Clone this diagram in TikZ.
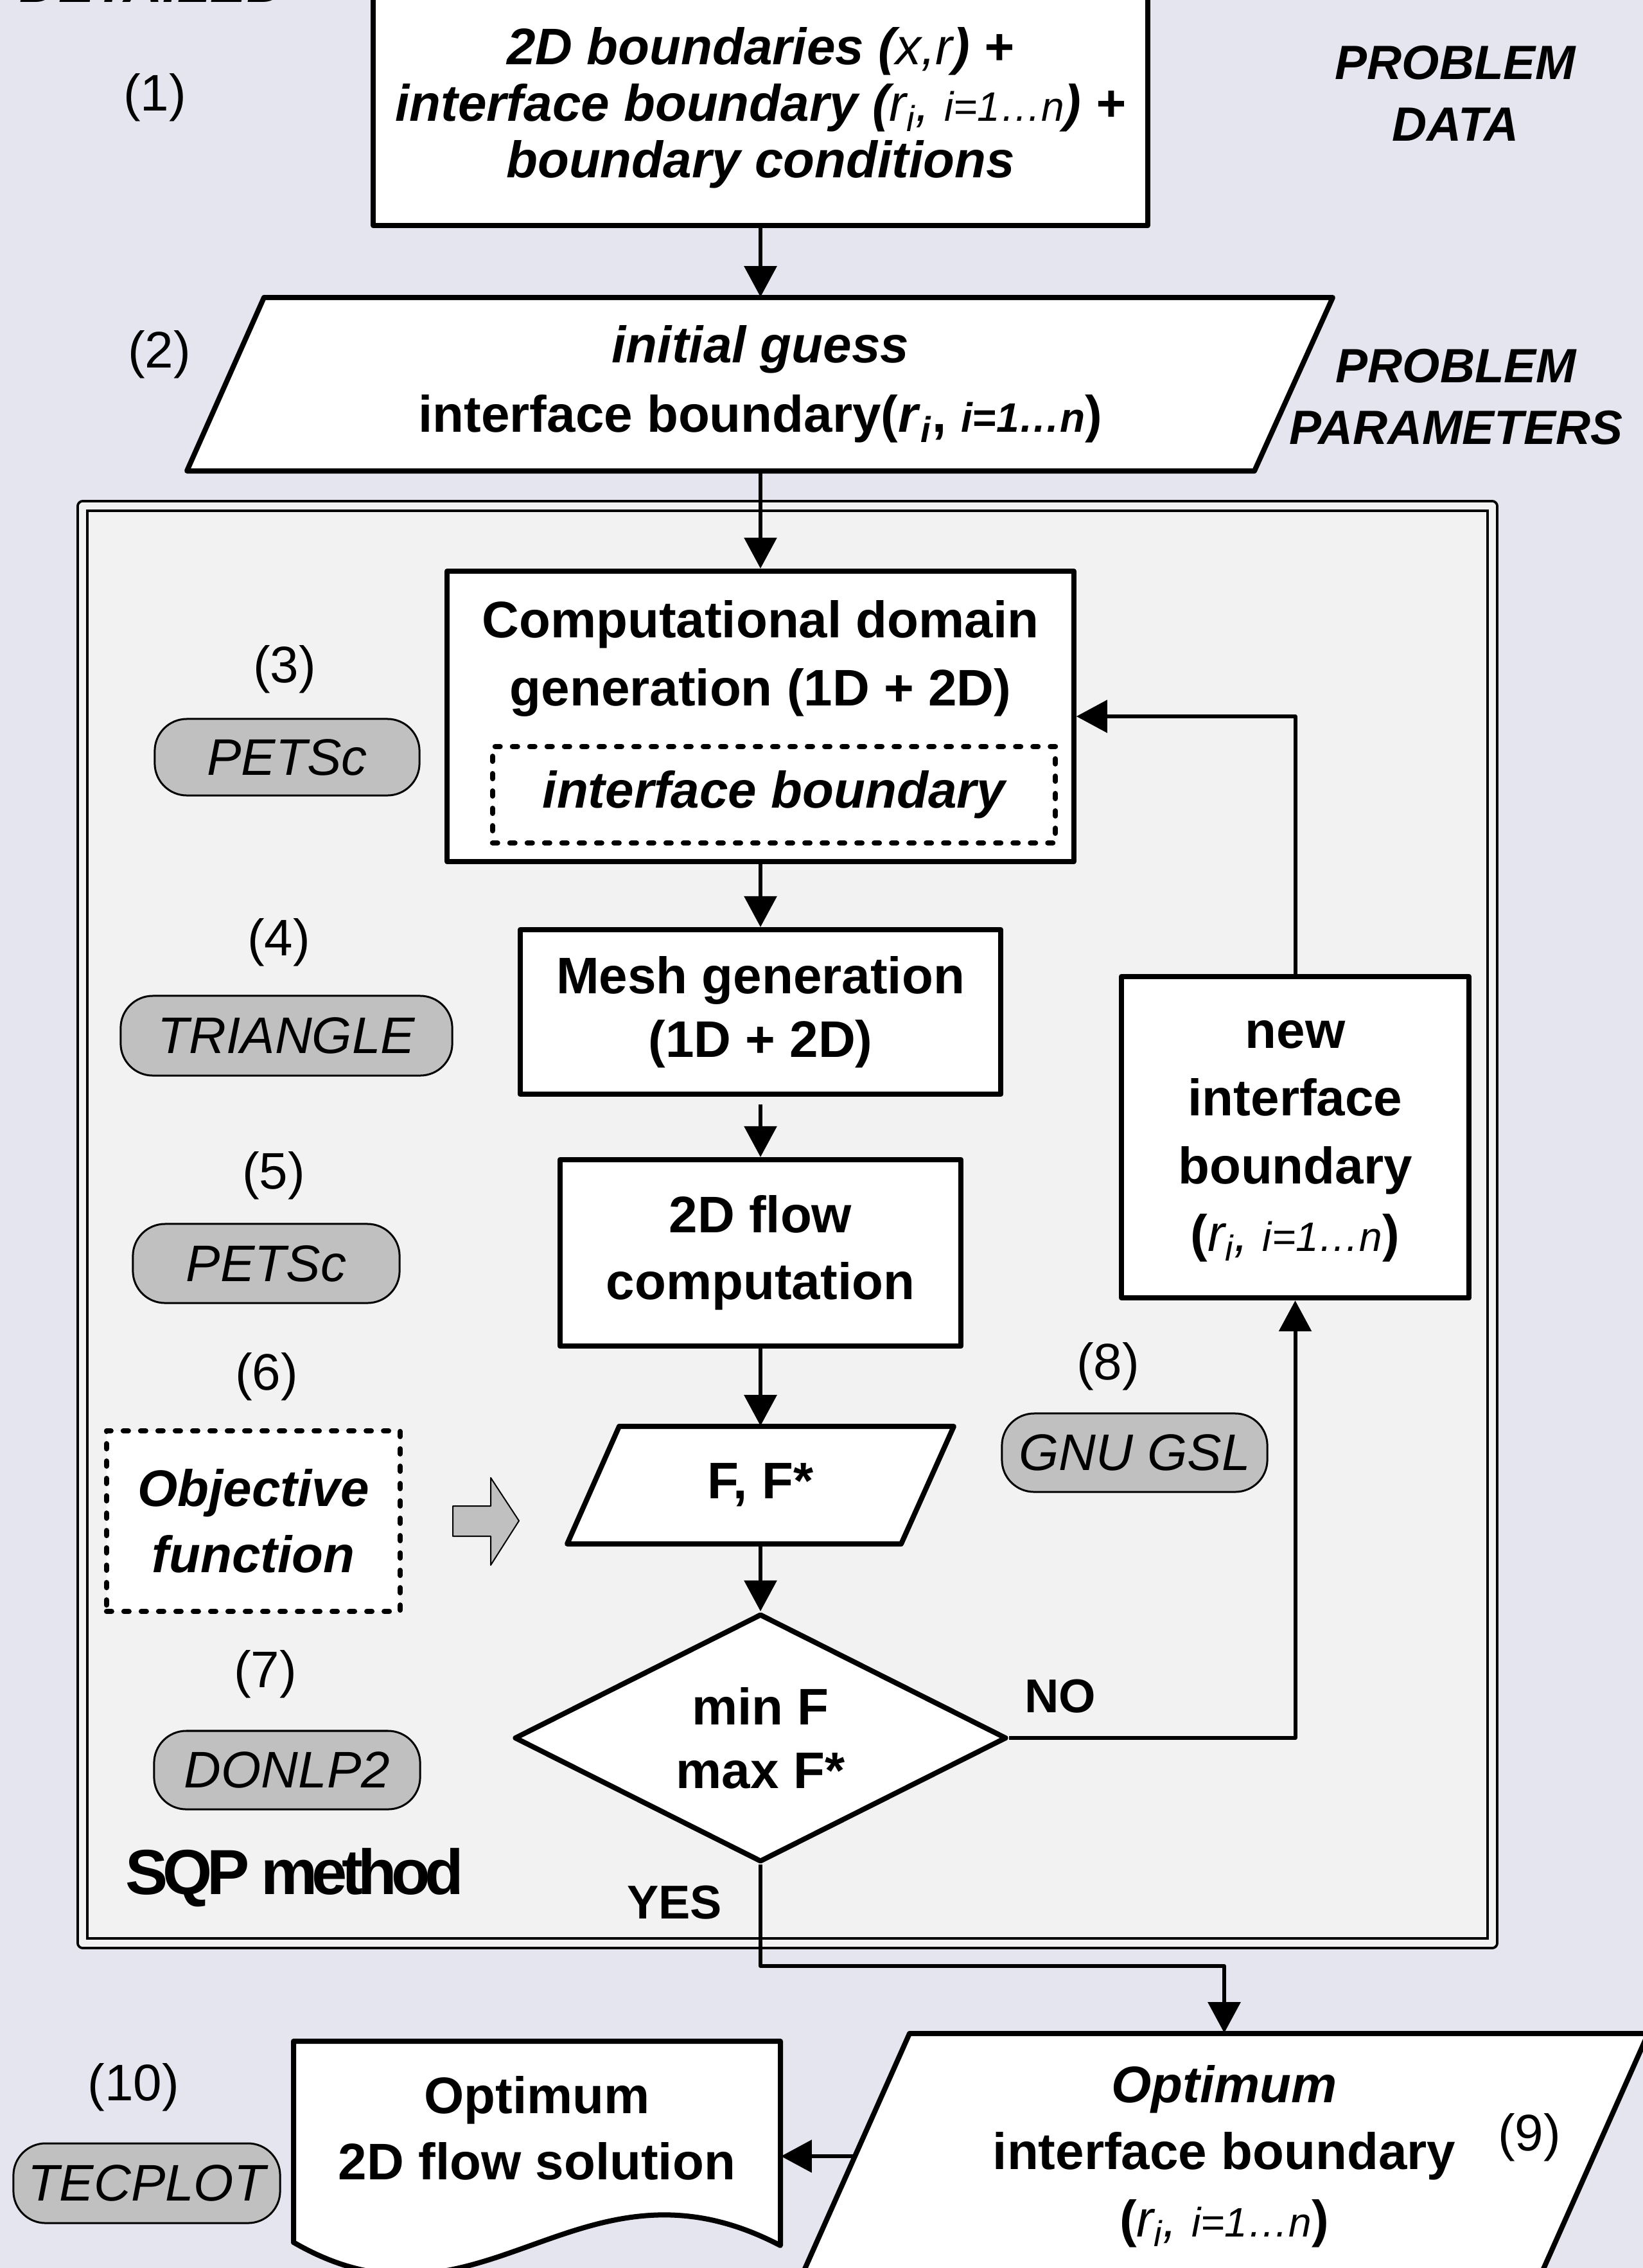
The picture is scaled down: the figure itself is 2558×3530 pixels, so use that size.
\documentclass[tikz,border=0pt]{standalone}
\usepackage{fontspec}
\setmainfont{Liberation Sans}
\usetikzlibrary{arrows.meta,shapes.geometric}

\definecolor{bgcol}{RGB}{229,229,240}
\definecolor{framegray}{RGB}{242,242,242}
\definecolor{pillgray}{RGB}{192,192,192}

\newcommand\fsz[2]{\fontsize{#1}{#2}\selectfont}
\newcommand\sml{\fontsize{18.2pt}{20pt}\selectfont}
\newcommand\tk{\kern-0.085em}

\tikzset{
  box/.style={draw, line width=0.08cm, fill=white, inner sep=0pt},
  txt/.style={align=center, inner sep=0pt, font=\bfseries\fsz{22.76pt}{29.3pt}},
  pill/.style={draw, line width=0.03cm, fill=pillgray, rounded corners=0.5cm,
    inner sep=0pt, font=\itshape\fsz{22.76pt}{27pt}},
  num/.style={inner sep=0pt, font=\fsz{22.76pt}{27pt}},
  side/.style={inner sep=0pt, align=center, font=\bfseries\itshape\fsz{21.3pt}{27.3pt}},
  yesno/.style={inner sep=0pt, font=\bfseries\fsz{21pt}{24pt}},
  conn/.style={line width=0.06cm, -{Triangle[length=0.48cm,width=0.5cm]}},
  dotbox/.style={draw, line width=0.08cm, fill=white,
    dash pattern=on 0.08cm off 0.19cm, line cap=round},
  paraline/.style={draw, line width=0.08cm, fill=white},
  decision/.style={diamond, aspect=2, draw, line width=0.08cm, fill=white,
    inner sep=0pt, minimum width=7.66cm, minimum height=3.86cm},
  frame/.style={draw, line width=0.04cm, double=framegray, double distance=0.11cm,
    fill=framegray, inner sep=0pt},
  blockarrow/.style={draw, line width=0.02cm, fill=pillgray},
  docshape/.style={draw, line width=0.08cm, fill=white}
}

\begin{document}
\begin{tikzpicture}[x=0.01cm, y=-0.01cm, line join=round]
\useasboundingbox (0,0) rectangle (2558,3530);
\fill[bgcol] (0,0) rectangle (2558,3530);
\clip (0,0) rectangle (2558,3530);

% heading running off the top edge
\node[anchor=base west, inner sep=0pt, font=\bfseries\itshape\fsz{23.9pt}{26pt}] (title) at (30,3) {DETAILED};

% SQP loop frame
\node[frame, minimum width=21.93cm, minimum height=22.35cm] (sqp) at (1226,1906) {};

% problem data
\node[box, txt, font=\bfseries\itshape\fsz{22.76pt}{25pt}, minimum width=12.05cm, minimum height=3.66cm] (b1) at (1184,168)
  {2D boundaries ({\mdseries x,r}) +\\interface boundary ({\mdseries r\textsubscript{i}, {\sml i=1…n}}) +\\boundary conditions};
\node[num] (n1) at (241,152) {(1)};
\node[side] (pdata) at (2266,145) {PROBLEM\\DATA};

% initial guess (parallelogram drawn round its text node)
\draw[paraline] (411,463) -- (2075,463) -- (1953,733) -- (291,733) -- cycle;
\node[txt, font=\bfseries\fsz{22.76pt}{30.7pt}, minimum height=2.7cm] (p2) at (1184,598)
  {\textit{initial guess}\\interface boundary(\textit{r}\textsubscript{\textit{i}}, {\sml\itshape i=1…n})};
\node[num] (n2) at (248,552) {(2)};
\node[side] (pparam) at (2267,618) {PROBLEM\\PARAMETERS};

% computational domain
\node[box, minimum width=9.75cm, minimum height=4.52cm] (b3) at (1184,1115) {};
\node[txt, font=\bfseries\fsz{22.76pt}{30.2pt}] (b3t) at (1184,1025) {Computational domain\\generation (1D + 2D)};
\node[dotbox, txt, font=\bfseries\itshape\fsz{22.76pt}{27pt}, minimum width=8.76cm, minimum height=1.5cm] (ib) at (1205,1237) {interface boundary};
\node[num] (n3) at (443,1042) {(3)};
\node[pill, minimum width=4.12cm, minimum height=1.19cm] (petsc3) at (447,1178.5) {PETSc};

% mesh
\node[box, txt, font=\bfseries\fsz{22.76pt}{28.2pt}, minimum width=7.48cm, minimum height=2.56cm] (b4) at (1184,1575) {Mesh generation\\(1D + 2D)};
\node[num] (n4) at (434,1467) {(4)};
\node[pill, minimum width=5.16cm, minimum height=1.24cm] (triangle) at (446,1612) {TRIANGLE};

% flow computation
\node[box, txt, font=\bfseries\fsz{22.76pt}{29.6pt}, minimum width=6.24cm, minimum height=2.9cm] (b5) at (1184,1950) {2D flow\\computation};
\node[num] (n5) at (426,1830) {(5)};
\node[pill, minimum width=4.15cm, minimum height=1.23cm] (petsc5) at (414.5,1966.5) {PETSc};

% new interface boundary
\node[box, minimum width=5.41cm, minimum height=5.0cm] (b8) at (2016.5,1770) {};
\node[txt, font=\bfseries\fsz{22.76pt}{30pt}] (b8t) at (2016.5,1776)
  {new\\interface\\boundary\\({\mdseries\itshape r\textsubscript{i}, {\sml i=1…n}})};

% objective value
\draw[paraline] (964,2220) -- (1485,2220) -- (1403,2403) -- (883,2403) -- cycle;
\node[txt, minimum height=1.83cm] (p6) at (1184,2311.5) {F, F*};
\node[num] (n6) at (415,2143) {(6)};
\node[dotbox, txt, font=\bfseries\itshape\fsz{22.76pt}{29.3pt}, minimum width=4.57cm, minimum height=2.81cm] (obj) at (394.5,2367.5) {Objective\\function};
\draw[blockarrow] (705,2344) -- (764,2344) -- (764,2300) -- (808,2367) -- (764,2436) -- (764,2391) -- (705,2391) -- cycle;
\node[num] (n8) at (1725,2127) {(8)};
\node[pill, minimum width=4.13cm, minimum height=1.22cm] (gsl) at (1766.5,2261) {GNU GSL};

% decision
\node[decision, txt, font=\bfseries\fsz{22.76pt}{28.2pt}] (d7) at (1184,2705) {min F\\max F*};
\node[num] (n7) at (413,2606) {(7)};
\node[pill, minimum width=4.14cm, minimum height=1.22cm] (donlp) at (447,2755) {DONLP2};
\node[yesno] (no) at (1651,2640) {NO};
\node[yesno] (yes) at (1050,2961) {YES};
% tightly tracked caption of the loop
\node[anchor=base, inner sep=0pt, font=\bfseries\fsz{28.2pt}{30pt}] (sqplabel) at (459,2948)
  {S\tk Q\tk P\kern-0.1em\ m\tk e\tk t\tk h\tk o\tk d};

% results
\draw[paraline] (1416,3165) -- (2566,3165) -- (2396,3547) -- (1246,3547) -- cycle;
\node[txt, font=\bfseries\fsz{22.76pt}{29.7pt}, minimum width=11.5cm, minimum height=3.82cm] (p9) at (1906,3356)
  {\textit{Optimum}\\interface boundary\\({\mdseries\itshape r\textsubscript{i}, {\sml i=1…n}})};
\node[num] (n9) at (2381,3327) {(9)};
\draw[docshape] (457,3177) -- (1215,3177) -- (1215,3495)
  .. controls (900,3330) and (750,3660) .. (457,3490) -- cycle;
\node[txt, font=\bfseries\fsz{22.76pt}{29.3pt}, minimum width=7.58cm] (doc) at (836,3312) {Optimum\\2D flow solution};
\node[num] (n10) at (208,3249) {(10)};
\node[pill, minimum width=4.15cm, minimum height=1.24cm] (tecplot) at (228.5,3398) {TECPLOT};

% connectors
\coordinate (yesbend) at (1184,3060);
\draw[conn] (b1.south) -- (p2.north);
\draw[conn] (p2.south) -- (b3.north);
\draw[conn] (b3.south) -- (b4.north);
\draw[conn, shorten <=0.12cm] (b4.south) -- (b5.north);
\draw[conn] (b5.south) -- (p6.north);
\draw[conn] (p6.south) -- (d7.north);
\draw[conn] (d7.east) -| (b8.south);
\draw[conn] (b8.north) |- (b3.east);
\draw[conn] (d7.south) -- (yesbend) -| (p9.north);
\draw[conn] (p9.west) -- (doc.east |- p9.west);
\end{tikzpicture}
\end{document}
